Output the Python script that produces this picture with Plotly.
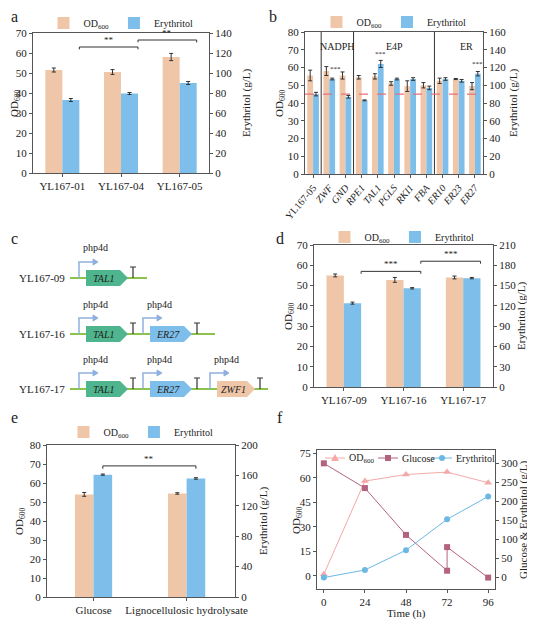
import plotly.graph_objects as go

# the page body adds an 8px margin, so the figure is drawn 8px smaller and coordinates shifted
OFF = 8
W, H = 535 - OFF, 620 - OFF
OD_C = '#efc6a8'
ER_C = '#7dbfea'
FONT = 'Liberation Serif, Times New Roman, serif'

# panel a
a_cats = ['YL167-01', 'YL167-04', 'YL167-05']
a_od = [51.5, 50.5, 58]
a_od_err = [1.0, 1.2, 1.8]
a_er = [73, 79.5, 90]
a_er_err = [1.5, 1.0, 1.5]

# panel b
b_cats = ['YL167-05', '<i>ZWF</i>', '<i>GND</i>', '<i>RPE1</i>', '<i>TAL1</i>', '<i>PGLS</i>',
          '<i>RKI1</i>', '<i>FBA</i>', '<i>ER10</i>', '<i>ER23</i>', '<i>ER27</i>']
b_od = [55.5, 58, 55.5, 54.5, 55, 51, 49.5, 50, 52.5, 53.5, 49.5]
b_od_err = [3, 2.5, 2, 1, 1.5, 1, 3, 1.5, 1.5, 0.3, 2]
b_er = [90, 107, 87, 83, 124, 107, 107, 97, 107, 105, 113]
b_er_err = [2, 1, 1.5, 0.5, 4, 1, 1.5, 2, 1.5, 1.5, 2.5]
b_groups = ['NADPH', 'E4P', 'ER']

# panel d
d_cats = ['YL167-09', 'YL167-16', 'YL167-17']
d_od = [55, 52.8, 54]
d_od_err = [0.7, 1.2, 0.7]
d_er = [124, 146, 161]
d_er_err = [1.5, 1.0, 1.0]

# panel e
e_cats = ['Glucose', 'Lignocellulosic hydrolysate']
e_od = [54, 54.5]
e_od_err = [1.0, 0.4]
e_er = [161, 156]
e_er_err = [0.8, 1.0]

# panel f
f_t = [0, 24, 48, 72, 96]
f_od = [1, 58, 62, 63.5, 57]
f_glc_t = [0, 24, 48, 72, 72, 96]
f_glc = [300, 235, 112, 18, 80, 0]
f_er = [0, 20, 72, 153, 213]
f_names = ['OD<sub>600</sub>', 'Glucose', 'Erythritol']
f_colors = ['#f4a9a9', '#b4637f', '#6cb8e4']


def px(x):
    return (x - OFF) / W


def py(y):
    return 1 - (y - OFF) / H


def dx(x0, x1):
    return [px(x0), px(x1)]


def dy(top, bottom):
    return [py(bottom), py(top)]


fig = go.Figure()
layout = dict(width=W, height=H, margin=dict(l=0, r=0, t=0, b=0, autoexpand=False),
              paper_bgcolor='white', plot_bgcolor='white', barmode='overlay',
              font=dict(family=FONT, size=11, color='#222'), shapes=[], annotations=[])

axline = dict(showline=True, linecolor='#555', linewidth=1, ticks='outside', ticklen=3,
              tickcolor='#555', showgrid=False, zeroline=False, automargin=False)


def text(x, y, s, size=11, angle=0, xanchor='center'):
    layout['annotations'].append(dict(x=px(x), y=py(y), xref='paper', yref='paper', text=s,
                                      showarrow=False, textangle=angle, font=dict(size=size),
                                      xanchor=xanchor, yanchor='middle'))


def legend_at(x, y, size=10):
    return dict(x=x, y=y, xanchor='center', yanchor='middle', orientation='h',
                bgcolor='rgba(0,0,0,0)', font=dict(size=size, family=FONT, color='#222'))


def bar_panel(n, cats, od, od_err, er, er_err, xd, yd, yr, y2r, dt, dt2, w, leg_pos, titles, tickangle=0):
    xa = 'x' if n == 1 else f'x{n}'
    ya = f'y{2*n-1}' if n > 1 else 'y'
    ya2 = f'y{2*n}'
    leg = 'legend' if n == 1 else f'legend{n}'
    xs = list(range(len(cats)))
    fig.add_trace(go.Bar(x=xs, y=od, width=w, offset=-w, marker=dict(color=OD_C, line_width=0),
                         error_y=dict(array=od_err, color='#333', thickness=1, width=2),
                         name='OD<sub>600</sub>', xaxis=xa, yaxis=ya, legend=leg))
    fig.add_trace(go.Bar(x=xs, y=er, width=w, offset=0, marker=dict(color=ER_C, line_width=0),
                         error_y=dict(array=er_err, color='#333', thickness=1, width=2),
                         name='Erythritol', xaxis=xa, yaxis=ya2, legend=leg))
    kx = 'xaxis' if n == 1 else f'xaxis{n}'
    ky = 'yaxis' if n == 1 else f'yaxis{2*n-1}'
    layout[kx] = dict(domain=xd, anchor=ya, range=[-0.5, len(cats) - 0.5], tickvals=xs, ticktext=cats,
                      tickangle=tickangle, mirror=True, **axline)
    layout[ky] = dict(domain=yd, anchor=xa, range=yr, dtick=dt, **axline)
    layout[f'yaxis{2*n}'] = dict(overlaying=ya, side='right', anchor=xa, range=y2r, dtick=dt2, **axline)
    layout[leg] = legend_at(*leg_pos)
    (lx, rx, ty) = titles
    text(lx, ty, 'OD<sub>600</sub>', angle=-90)
    text(rx, ty, 'Erythritol (g/L)', angle=-90)
    return xa, ya


def bracket(xa, ya, x0, x1, y, txt, tick=1.2):
    layout['shapes'].append(dict(type='path', xref=xa, yref=ya,
                                 path=f'M{x0},{y-tick} L{x0},{y} L{x1},{y} L{x1},{y-tick}',
                                 line=dict(color='#333', width=1)))
    layout['annotations'].append(dict(x=(x0 + x1) / 2, y=y, xref=xa, yref=ya, text=txt,
                                      showarrow=False, yanchor='bottom', font=dict(size=9)))


# a
xa, ya = bar_panel(1, a_cats, a_od, a_od_err, a_er, a_er_err, dx(33, 209), dy(33, 173),
                   [0, 70], [0, 140], 10, 20, 0.29, (px(121), py(23)), (15, 246, 103))
bracket(xa, ya, 0.29, 1.29, 63, '**')
bracket(xa, ya, 1.29, 2.29, 66.5, '**')

# b
xa, ya = bar_panel(2, b_cats, b_od, b_od_err, b_er, b_er_err, dx(305, 483), dy(32, 174),
                   [0, 80], [0, 160], 10, 20, 0.36, (px(394), py(22)), (280, 513, 103), tickangle=-50)
layout['xaxis2']['tickfont'] = dict(size=10)
for x in [0.5, 2.5, 7.5]:
    layout['shapes'].append(dict(type='line', xref=xa, yref='y3 domain', x0=x, x1=x, y0=0, y1=1,
                                 line=dict(color='#333', width=1)))
layout['shapes'].append(dict(type='line', xref='x2 domain', yref='y4', x0=0, x1=1, y0=90, y1=90,
                             line=dict(color='#e8707a', width=1.2, dash='dash')))
for g, x in zip(b_groups, [1.5, 5.0, 9.5]):
    layout['annotations'].append(dict(x=x, y=72, xref=xa, yref=ya, text=g, showarrow=False,
                                      font=dict(size=10)))
for i, y in [(1, 55.5), (4, 64), (10, 58.5)]:
    layout['annotations'].append(dict(x=i + 0.18 if i != 1 else i + 0.4, y=y, xref=xa, yref=ya,
                                      text='***', showarrow=False, yanchor='bottom', font=dict(size=7)))

# d
xa, ya = bar_panel(3, d_cats, d_od, d_od_err, d_er, d_er_err, dx(314, 493), dy(245, 387),
                   [0, 70], [0, 210], 10, 30, 0.29, (px(402), py(237)), (289, 521, 316))
bracket(xa, ya, 0.29, 1.29, 57, '***')
bracket(xa, ya, 1.29, 2.29, 62, '***')

# e
xa, ya = bar_panel(4, e_cats, e_od, e_od_err, e_er, e_er_err, dx(47, 235), dy(445, 597),
                   [0, 80], [0, 200], 10, 40, 0.2, (px(141), py(432)), (20, 263, 521))
layout['xaxis4']['range'] = [-0.5, 1.52]
bracket(xa, ya, 0.1, 1.1, 69, '**', tick=1.5)

# f
markers = [('triangle-up', 7), ('square', 6), ('circle', 6)]
for xs_, ys_, nm, col, (sym, sz), yax in zip([f_t, f_glc_t, f_t], [f_od, f_glc, f_er], f_names,
                                             f_colors, markers, ['y9', 'y10', 'y10']):
    fig.add_trace(go.Scatter(x=xs_, y=ys_, mode='lines+markers', name=nm, showlegend=False,
                             line=dict(color=col, width=1), marker=dict(symbol=sym, size=sz),
                             xaxis='x5', yaxis=yax))
layout['xaxis5'] = dict(domain=dx(317, 495), anchor='y9', range=[-4, 100], tickvals=f_t, mirror=True,
                        **axline)
layout['yaxis9'] = dict(domain=dy(450, 589), anchor='x5', range=[-8, 77], dtick=15, **axline)
layout['yaxis10'] = dict(overlaying='y9', side='right', anchor='x5', range=[-30, 335], dtick=50, **axline)
text(297, 520, 'OD<sub>600</sub>', angle=-90)
text(523, 520, 'Glucose &amp; Erythritol (g/L)', angle=-90)
text(406, 613, 'Time (h)')

# hand-made legend for panel f
for (l0, lab), col, (sym, sz) in zip([(325, 'OD<sub>600</sub>'), (378, 'Glucose'), (432, 'Erythritol')],
                                     f_colors, markers):
    yl = 458
    layout['shapes'].append(dict(type='line', xref='paper', yref='paper', x0=px(l0), x1=px(l0 + 20),
                                 y0=py(yl), y1=py(yl), line=dict(color=col, width=1)))
    c = l0 + 10
    if sym == 'triangle-up':
        path = f'M{px(c-4)},{py(yl+3)} L{px(c+4)},{py(yl+3)} L{px(c)},{py(yl-4)} Z'
        layout['shapes'].append(dict(type='path', xref='paper', yref='paper', path=path,
                                     fillcolor=col, line=dict(width=0)))
    else:
        layout['shapes'].append(dict(type='rect' if sym == 'square' else 'circle', xref='paper', yref='paper',
                                     x0=px(c - 3), x1=px(c + 3), y0=py(yl + 3), y1=py(yl - 3),
                                     fillcolor=col, line=dict(width=0)))
    text(l0 + 22, yl, lab, size=10, xanchor='left')

# c: construct diagram
GREEN, PROMO = '#8cc34a', '#8fb0e0'
rows = [(278, 'YL167-09', [('TAL1', 86, 128, '#4fb58e')], 147),
        (334, 'YL167-16', [('TAL1', 86, 128, '#4fb58e'), ('ER27', 150, 192, '#7dbfea')], 215),
        (389, 'YL167-17', [('TAL1', 86, 128, '#4fb58e'), ('ER27', 150, 192, '#7dbfea'),
                           ('ZWF1', 217, 255, '#efc6a8')], 268)]
for yl, name, genes, xend in rows:
    text(67, yl, name, xanchor='right')
    layout['shapes'].append(dict(type='line', xref='paper', yref='paper', x0=px(70), x1=px(xend),
                                 y0=py(yl), y1=py(yl), line=dict(color=GREEN, width=2)))
    for gname, g0, g1, col in genes:
        h = 8
        path = (f'M{px(g0)},{py(yl-h)} L{px(g1-8)},{py(yl-h)} L{px(g1)},{py(yl)} '
                f'L{px(g1-8)},{py(yl+h)} L{px(g0)},{py(yl+h)} Z')
        layout['shapes'].append(dict(type='path', xref='paper', yref='paper', path=path,
                                     fillcolor=col, line=dict(width=0)))
        text((g0 + g1 - 6) / 2, yl, f'<i>{gname}</i>', size=10)
        pxp = g0 - 7
        layout['shapes'].append(dict(type='path', xref='paper', yref='paper',
                                     path=f'M{px(pxp)},{py(yl)} L{px(pxp)},{py(yl-16)} L{px(pxp+16)},{py(yl-16)}',
                                     line=dict(color=PROMO, width=1.5)))
        layout['shapes'].append(dict(type='path', xref='paper', yref='paper',
                                     path=(f'M{px(pxp+14)},{py(yl-19)} L{px(pxp+19)},{py(yl-16)} '
                                           f'L{px(pxp+14)},{py(yl-13)} Z'),
                                     fillcolor=PROMO, line=dict(color=PROMO, width=1)))
        text(pxp + 16, yl - 30, 'php4d', size=10)
        tx = g1 + 5
        layout['shapes'].append(dict(type='path', xref='paper', yref='paper',
                                     path=(f'M{px(tx)},{py(yl)} L{px(tx)},{py(yl-11)} '
                                           f'M{px(tx-3)},{py(yl-11)} L{px(tx+3)},{py(yl-11)}'),
                                     line=dict(color='#333', width=1.2)))

for lab, x, y in [('a', 14, 17), ('b', 273, 17), ('c', 14, 238), ('d', 280, 238), ('e', 14, 418), ('f', 280, 418)]:
    text(x, y, lab, size=16)

fig.update_layout(**layout)
fig.write_html('out.html')
